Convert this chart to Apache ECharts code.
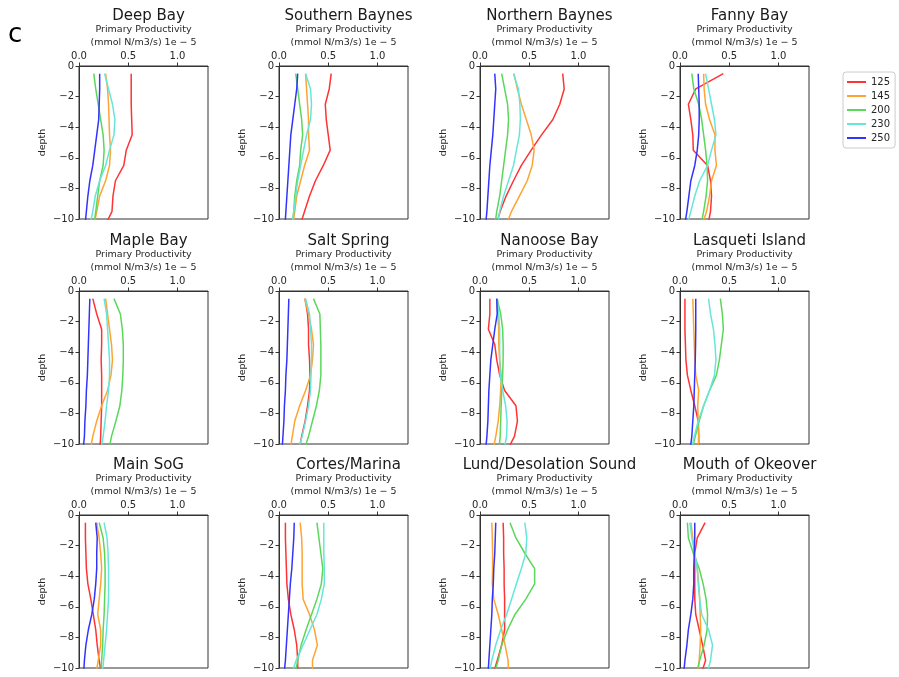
<!DOCTYPE html>
<html>
<head>
<meta charset="utf-8">
<script src="https://cdn.jsdelivr.net/npm/echarts@6/dist/echarts.min.js"></script>
<style>
  html, body { margin: 0; background: #fff; }
  #chart { width: 899px; height: 677px; }
</style>
</head>
<body>
<div id="chart"></div>
<script>
// depth of each model layer (m), last one falls just below the axis
const depths = [-0.5, -1.5, -2.5, -3.5, -4.5, -5.5, -6.5, -7.5, -8.5, -9.5, -10.5]
const runs = ['125', '145', '200', '230', '250']
const runColors = ['#ff3333', '#ffa333', '#5bd75b', '#66e6d9', '#3333ff']

const locations = [
  'Deep Bay', 'Southern Baynes', 'Northern Baynes', 'Fanny Bay',
  'Maple Bay', 'Salt Spring', 'Nanoose Bay', 'Lasqueti Island',
  'Main SoG', 'Cortes/Marina', 'Lund/Desolation Sound', 'Mouth of Okeover'
]

// rows: 125, 145, 200, 230, 250 ; values in 1e-5 mmol N/m3/s
const deepBay = [
  [0.53, 0.53, 0.53, 0.535, 0.54, 0.48, 0.455, 0.37, 0.345, 0.335, 0.26],
  [0.27, 0.29, 0.30, 0.305, 0.31, 0.32, 0.31, 0.27, 0.21, 0.18, 0.15],
  [0.15, 0.17, 0.195, 0.22, 0.245, 0.255, 0.245, 0.21, 0.19, 0.17, 0.15],
  [0.26, 0.30, 0.34, 0.365, 0.355, 0.31, 0.27, 0.21, 0.165, 0.14, 0.11],
  [0.21, 0.21, 0.205, 0.2, 0.18, 0.16, 0.14, 0.11, 0.09, 0.075, 0.06]
]
const southernBaynes = [
  [0.53, 0.51, 0.47, 0.48, 0.50, 0.52, 0.45, 0.37, 0.31, 0.26, 0.21],
  [0.27, 0.28, 0.29, 0.30, 0.30, 0.31, 0.26, 0.22, 0.18, 0.16, 0.14],
  [0.17, 0.19, 0.21, 0.23, 0.24, 0.22, 0.21, 0.18, 0.16, 0.15, 0.13],
  [0.27, 0.32, 0.33, 0.32, 0.28, 0.25, 0.22, 0.19, 0.17, 0.15, 0.13],
  [0.19, 0.18, 0.16, 0.14, 0.12, 0.11, 0.10, 0.09, 0.08, 0.07, 0.06]
]
const northernBaynes = [
  [0.84, 0.855, 0.81, 0.74, 0.625, 0.52, 0.42, 0.34, 0.265, 0.205, 0.16],
  [0.345, 0.38, 0.42, 0.47, 0.52, 0.55, 0.53, 0.48, 0.40, 0.32, 0.26],
  [0.22, 0.25, 0.28, 0.29, 0.28, 0.26, 0.24, 0.22, 0.20, 0.17, 0.15],
  [0.34, 0.39, 0.405, 0.41, 0.40, 0.37, 0.34, 0.29, 0.24, 0.20, 0.17],
  [0.15, 0.16, 0.15, 0.14, 0.13, 0.115, 0.10, 0.09, 0.08, 0.07, 0.055]
]
const fannyBay = [
  [0.44, 0.16, 0.085, 0.11, 0.13, 0.135, 0.28, 0.31, 0.32, 0.31, 0.28],
  [0.24, 0.245, 0.26, 0.30, 0.355, 0.355, 0.37, 0.32, 0.30, 0.27, 0.22],
  [0.12, 0.14, 0.19, 0.22, 0.24, 0.26, 0.275, 0.28, 0.265, 0.24, 0.21],
  [0.26, 0.29, 0.32, 0.35, 0.365, 0.32, 0.28, 0.20, 0.15, 0.11, 0.07],
  [0.185, 0.19, 0.195, 0.195, 0.19, 0.175, 0.15, 0.11, 0.09, 0.07, 0.045]
]
const mapleBay = [
  [0.14, 0.18, 0.23, 0.23, 0.225, 0.23, 0.23, 0.23, 0.225, 0.22, 0.21],
  [0.27, 0.29, 0.31, 0.33, 0.34, 0.325, 0.29, 0.23, 0.18, 0.14, 0.11],
  [0.355, 0.42, 0.44, 0.45, 0.45, 0.445, 0.435, 0.415, 0.375, 0.33, 0.30],
  [0.255, 0.28, 0.29, 0.30, 0.31, 0.31, 0.30, 0.28, 0.265, 0.245, 0.22],
  [0.11, 0.105, 0.10, 0.095, 0.09, 0.085, 0.075, 0.07, 0.06, 0.055, 0.04]
]
const saltSpring = [
  [0.265, 0.29, 0.30, 0.30, 0.31, 0.315, 0.31, 0.29, 0.265, 0.23, 0.20],
  [0.26, 0.30, 0.33, 0.35, 0.34, 0.32, 0.27, 0.21, 0.16, 0.135, 0.11],
  [0.35, 0.415, 0.42, 0.425, 0.425, 0.425, 0.41, 0.38, 0.34, 0.30, 0.25],
  [0.27, 0.31, 0.32, 0.33, 0.33, 0.325, 0.32, 0.30, 0.27, 0.235, 0.19],
  [0.10, 0.095, 0.09, 0.085, 0.08, 0.07, 0.065, 0.055, 0.05, 0.04, 0.03]
]
const nanooseBay = [
  [0.10, 0.10, 0.085, 0.15, 0.17, 0.20, 0.25, 0.365, 0.38, 0.35, 0.27],
  [0.17, 0.18, 0.19, 0.19, 0.20, 0.215, 0.21, 0.20, 0.185, 0.16, 0.13],
  [0.175, 0.21, 0.23, 0.235, 0.235, 0.23, 0.22, 0.215, 0.21, 0.205, 0.19],
  [0.175, 0.19, 0.20, 0.20, 0.20, 0.205, 0.23, 0.26, 0.275, 0.27, 0.24],
  [0.17, 0.175, 0.15, 0.13, 0.11, 0.10, 0.09, 0.085, 0.08, 0.07, 0.055]
]
const lasquetiIsland = [
  [0.05, 0.05, 0.05, 0.055, 0.06, 0.075, 0.11, 0.15, 0.185, 0.19, 0.19],
  [0.13, 0.135, 0.14, 0.145, 0.15, 0.16, 0.19, 0.18, 0.185, 0.19, 0.185],
  [0.41, 0.43, 0.44, 0.42, 0.40, 0.37, 0.30, 0.24, 0.195, 0.155, 0.12],
  [0.29, 0.31, 0.34, 0.355, 0.365, 0.35, 0.30, 0.24, 0.185, 0.145, 0.11],
  [0.16, 0.16, 0.16, 0.158, 0.155, 0.15, 0.145, 0.14, 0.13, 0.12, 0.10]
]
const mainSoG = [
  [0.065, 0.065, 0.07, 0.075, 0.09, 0.12, 0.145, 0.17, 0.185, 0.205, 0.23],
  [0.18, 0.205, 0.22, 0.23, 0.22, 0.205, 0.19, 0.22, 0.22, 0.195, 0.17],
  [0.205, 0.245, 0.26, 0.265, 0.265, 0.26, 0.255, 0.245, 0.24, 0.23, 0.22],
  [0.255, 0.285, 0.295, 0.30, 0.30, 0.30, 0.29, 0.28, 0.265, 0.25, 0.235],
  [0.17, 0.185, 0.18, 0.18, 0.17, 0.155, 0.13, 0.095, 0.07, 0.055, 0.045]
]
const cortesMarina = [
  [0.065, 0.065, 0.07, 0.075, 0.08, 0.095, 0.12, 0.155, 0.18, 0.19, 0.19],
  [0.215, 0.23, 0.235, 0.235, 0.235, 0.245, 0.31, 0.36, 0.39, 0.34, 0.34],
  [0.385, 0.405, 0.425, 0.445, 0.43, 0.385, 0.33, 0.275, 0.225, 0.19, 0.16],
  [0.455, 0.455, 0.455, 0.46, 0.46, 0.43, 0.385, 0.315, 0.245, 0.175, 0.12],
  [0.155, 0.15, 0.14, 0.13, 0.115, 0.105, 0.095, 0.085, 0.075, 0.065, 0.05]
]
const lundDesolation = [
  [0.235, 0.24, 0.24, 0.245, 0.245, 0.25, 0.25, 0.25, 0.22, 0.175, 0.13],
  [0.12, 0.125, 0.128, 0.128, 0.125, 0.14, 0.185, 0.22, 0.255, 0.285, 0.29],
  [0.305, 0.365, 0.455, 0.555, 0.555, 0.465, 0.355, 0.28, 0.22, 0.185, 0.14],
  [0.455, 0.475, 0.465, 0.42, 0.37, 0.32, 0.27, 0.21, 0.16, 0.12, 0.09],
  [0.16, 0.155, 0.15, 0.14, 0.135, 0.125, 0.12, 0.11, 0.10, 0.09, 0.08]
]
const mouthOkeover = [
  [0.255, 0.175, 0.15, 0.15, 0.15, 0.15, 0.16, 0.195, 0.23, 0.26, 0.21],
  [0.11, 0.13, 0.15, 0.175, 0.19, 0.20, 0.205, 0.21, 0.205, 0.195, 0.18],
  [0.075, 0.085, 0.135, 0.195, 0.235, 0.265, 0.28, 0.275, 0.245, 0.20, 0.16],
  [0.10, 0.12, 0.15, 0.175, 0.185, 0.20, 0.22, 0.29, 0.33, 0.31, 0.27],
  [0.15, 0.15, 0.145, 0.14, 0.14, 0.13, 0.11, 0.085, 0.07, 0.05, 0.035]
]

const panels = [
  deepBay, southernBaynes, northernBaynes, fannyBay,
  mapleBay, saltSpring, nanooseBay, lasquetiIsland,
  mainSoG, cortesMarina, lundDesolation, mouthOkeover
]

const xTicks = [0, 0.5, 1.0]

// layout of the 3x4 panel grid
const colLeft = [79, 279, 480, 680]
const rowTop = [66, 291, 515]
const plotW = 129
const plotH = 153

const font = 'DejaVu Sans'
const ink = '#262626'

let grids = [], xAxes = [], yAxes = [], titles = [], series = []

panels.forEach((rows, p) => {
  let left = colLeft[p % 4]
  let top = rowTop[Math.floor(p / 4)]

  grids.push({
    left: left, top: top, width: plotW, height: plotH,
    show: true, borderColor: '#333', borderWidth: 1
  })

  titles.push({
    text: locations[p],
    left: left + plotW / 2,
    top: top - 62,
    textAlign: 'center',
    textStyle: { fontFamily: font, fontSize: 15, fontWeight: 'normal', color: '#1a1a1a' }
  })

  xAxes.push({
    gridIndex: p,
    type: 'value',
    position: 'top',
    min: 0,
    max: 1.31,
    interval: 0.5,
    name: 'Primary Productivity\n(mmol N/m3/s) 1e \u2212 5',
    nameLocation: 'middle',
    nameGap: 17,
    nameTextStyle: { fontFamily: font, fontSize: 9.5, color: ink, lineHeight: 13 },
    axisLine: { show: true, lineStyle: { color: '#333' } },
    axisTick: { show: true, length: 3.5, customValues: xTicks, lineStyle: { color: '#333' } },
    axisLabel: {
      customValues: xTicks,
      margin: 5,
      fontFamily: font, fontSize: 10, color: ink,
      formatter: (v) => v.toFixed(1)
    },
    splitLine: { show: false }
  })

  yAxes.push({
    gridIndex: p,
    type: 'value',
    min: -10,
    max: 0,
    interval: 2,
    name: 'depth',
    nameLocation: 'middle',
    nameGap: 31,
    nameTextStyle: { fontFamily: font, fontSize: 9.5, color: ink },
    axisLine: { show: true, lineStyle: { color: '#333' } },
    axisTick: { show: true, length: 3.5, lineStyle: { color: '#333' } },
    axisLabel: {
      margin: 5,
      fontFamily: font, fontSize: 10, color: ink,
      formatter: (v) => String(v).replace('-', '\u2212')
    },
    splitLine: { show: false }
  })

  rows.forEach((values, r) => {
    series.push({
      name: runs[r],
      type: 'line',
      xAxisIndex: p,
      yAxisIndex: p,
      data: values.map((v, i) => [v, depths[i]]),
      symbol: 'none',
      clip: true,
      color: runColors[r],
      lineStyle: { width: 1.5, color: runColors[r] },
      animation: false
    })
  })
})

let chart = echarts.init(document.getElementById('chart'), null, { renderer: 'canvas' })

chart.setOption({
  backgroundColor: '#fff',
  animation: false,
  title: titles,
  grid: grids,
  xAxis: xAxes,
  yAxis: yAxes,
  legend: {
    data: runs.map((r, i) => ({ name: r, icon: 'rect', itemStyle: { color: runColors[i] } })),
    orient: 'vertical',
    left: 843,
    top: 72,
    padding: [4, 5, 4, 4],
    itemGap: 2,
    itemWidth: 19,
    itemHeight: 2,
    borderColor: '#ccc',
    borderWidth: 1,
    borderRadius: 3,
    textStyle: { fontFamily: font, fontSize: 10, color: ink, lineHeight: 12 }
  },
  graphic: [{
    type: 'text',
    left: 8,
    top: 22,
    style: { text: 'c', fontFamily: font, fontSize: 26, fill: '#000' }
  }],
  series: series
})
</script>
</body>
</html>
